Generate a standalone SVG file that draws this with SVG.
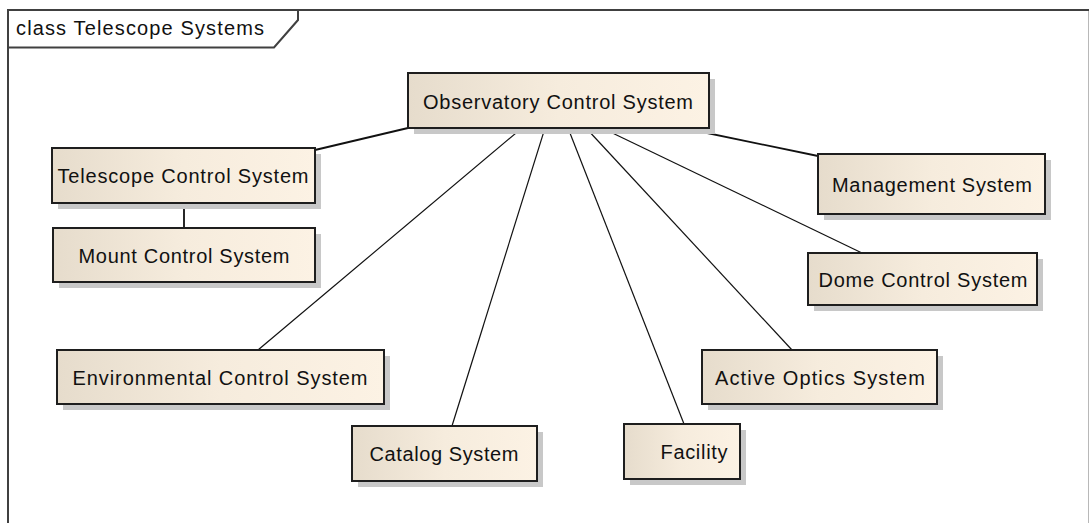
<svg xmlns="http://www.w3.org/2000/svg" width="1090" height="523" viewBox="0 0 1090 523">
  <defs>
    <linearGradient id="boxFill" x1="0" y1="0" x2="1" y2="0">
      <stop offset="0" stop-color="#E6DCCC"/>
      <stop offset="0.5" stop-color="#F6ECDD"/>
      <stop offset="1" stop-color="#FCF2E4"/>
    </linearGradient>
    <style>
      .frame { fill: none; stroke: #404040; stroke-width: 2; }
      .frame-edge { fill: none; stroke: #B8B8B8; stroke-width: 1; }
      .shadow { fill: #C8C8C8; }
      .box { fill: url(#boxFill); stroke: #1E1E1E; stroke-width: 2; }
      .label { font-family: "Liberation Sans", Arial, sans-serif; font-size: 20px; fill: #111; text-anchor: middle; }
      .title { font-family: "Liberation Sans", Arial, sans-serif; font-size: 20px; fill: #111; }
      .link { stroke: #111; stroke-width: 1.2; fill: none; }
      .link-bold { stroke: #111; stroke-width: 1.8; fill: none; }
    </style>
  </defs>

  <rect x="0" y="0" width="1090" height="523" fill="#FFFFFF"/>

  <!-- diagram frame -->
  <g id="frame">
    <line class="frame" x1="8" y1="10" x2="1089" y2="10"/>
    <line class="frame" x1="8" y1="9" x2="8" y2="523"/>
    <line class="frame-edge" x1="1088.5" y1="11" x2="1088.5" y2="523"/>
    <path class="frame" d="M8 47.5 H274 L298 20 V10"/>
    <text class="title" x="16" y="35" textLength="248" lengthAdjust="spacing">class Telescope Systems</text>
  </g>

  <!-- associations -->
  <g id="connectors">
    <line class="link-bold" x1="408" y1="128" x2="315" y2="150"/>
    <line class="link-bold" x1="683" y1="128" x2="818" y2="156"/>
    <line class="link-bold" x1="184" y1="203" x2="184" y2="228"/>
    <line class="link" x1="522" y1="128" x2="258" y2="350"/>
    <line class="link" x1="545" y1="128" x2="452" y2="426"/>
    <line class="link" x1="568" y1="128" x2="684" y2="424"/>
    <line class="link" x1="586" y1="128" x2="792" y2="350"/>
    <line class="link" x1="602" y1="128" x2="862" y2="253"/>
  </g>

  <g id="observatory-control-system">
    <rect class="shadow" x="414" y="79" width="301" height="55"/>
    <rect class="box" x="408" y="73" width="301" height="55"/>
    <text class="label" x="558" y="109" textLength="270" lengthAdjust="spacing">Observatory Control System</text>
  </g>

  <g id="telescope-control-system">
    <rect class="shadow" x="58" y="154" width="263" height="55"/>
    <rect class="box" x="52" y="148" width="263" height="55"/>
    <text class="label" x="183" y="183" textLength="251" lengthAdjust="spacing">Telescope Control System</text>
  </g>

  <g id="mount-control-system">
    <rect class="shadow" x="59" y="234" width="262" height="54"/>
    <rect class="box" x="53" y="228" width="262" height="54"/>
    <text class="label" x="184" y="263" textLength="211" lengthAdjust="spacing">Mount Control System</text>
  </g>

  <g id="management-system">
    <rect class="shadow" x="824" y="160" width="227" height="60"/>
    <rect class="box" x="818" y="154" width="227" height="60"/>
    <text class="label" x="932" y="192" textLength="200" lengthAdjust="spacing">Management System</text>
  </g>

  <g id="dome-control-system">
    <rect class="shadow" x="814" y="259" width="229" height="52"/>
    <rect class="box" x="808" y="253" width="229" height="52"/>
    <text class="label" x="923" y="287" textLength="209" lengthAdjust="spacing">Dome Control System</text>
  </g>

  <g id="environmental-control-system">
    <rect class="shadow" x="63" y="356" width="327" height="54"/>
    <rect class="box" x="57" y="350" width="327" height="54"/>
    <text class="label" x="220" y="385" textLength="295" lengthAdjust="spacing">Environmental Control System</text>
  </g>

  <g id="active-optics-system">
    <rect class="shadow" x="708" y="356" width="235" height="54"/>
    <rect class="box" x="702" y="350" width="235" height="54"/>
    <text class="label" x="820" y="385" textLength="210" lengthAdjust="spacing">Active Optics System</text>
  </g>

  <g id="catalog-system">
    <rect class="shadow" x="358" y="432" width="185" height="55"/>
    <rect class="box" x="352" y="426" width="185" height="55"/>
    <text class="label" x="444" y="461" textLength="149" lengthAdjust="spacing">Catalog System</text>
  </g>

  <g id="facility">
    <rect class="shadow" x="630" y="430" width="116" height="55"/>
    <rect class="box" x="624" y="424" width="116" height="55"/>
    <text class="label" x="694" y="459" textLength="67" lengthAdjust="spacing">Facility</text>
  </g>
</svg>
